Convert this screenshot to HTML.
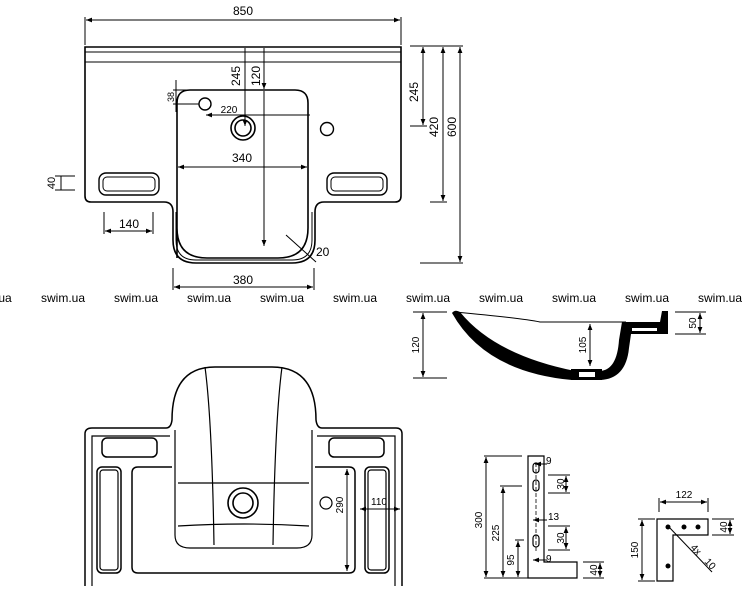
<!DOCTYPE html>
<html><head><meta charset="utf-8"><style>
html,body{margin:0;padding:0;background:#fff;}
svg{display:block;}
text{font-family:"Liberation Sans",sans-serif;fill:#000;}
.w{fill:#7a7a7a;font-size:12px;}
</style></head><body>
<svg width="742" height="600" viewBox="0 0 742 600" xmlns="http://www.w3.org/2000/svg">
<defs>
<marker id="a" viewBox="0 0 10 10" refX="10" refY="5" markerWidth="6" markerHeight="6" orient="auto-start-reverse"><path d="M0,1 L10,5 L0,9 z" fill="#000"/></marker>
</defs>
<g stroke="#000" fill="none" stroke-width="1">
<line x1="85" y1="17" x2="85" y2="45"/><line x1="401" y1="17" x2="401" y2="45"/>
<line x1="86" y1="20" x2="400" y2="20" marker-start="url(#a)" marker-end="url(#a)"/>
<path d="M85,47 H401 V196 Q401,202 395,202 H324 Q315,202 315,212 V240 Q315,263 292,263 H196 Q173,263 173,240 V212 Q173,202 164,202 H91 Q85,202 85,196 Z" stroke-width="1.6"/>
<line x1="85" y1="52" x2="401" y2="52"/>
<line x1="85" y1="62" x2="401" y2="62"/>
<path d="M177,258 V103 Q177,90 190,90 H295 Q308,90 308,103 V228 Q308,258 278,258 H207 Q177,258 177,228" stroke-width="1.6"/>
<path d="M176,212 V240 Q176,260 196,260 H292 Q312,260 312,240 V212" />
<circle cx="205" cy="104" r="6" stroke-width="1.4"/>
<circle cx="243" cy="128" r="12" stroke-width="1.6"/><circle cx="243" cy="128" r="8" stroke-width="1.6"/>
<circle cx="327" cy="129" r="6.5" stroke-width="1.4"/>
<rect x="99" y="173" width="60" height="22" rx="7" stroke-width="1.4"/><rect x="103" y="177" width="52" height="14" rx="4"/>
<rect x="327" y="173" width="60" height="22" rx="7" stroke-width="1.4"/><rect x="331" y="177" width="52" height="14" rx="4"/>
<line x1="245" y1="48" x2="245" y2="126" marker-end="url(#a)"/>
<line x1="264" y1="48" x2="264" y2="89" marker-end="url(#a)"/>
<line x1="264" y1="91" x2="264" y2="246" marker-end="url(#a)"/>
<line x1="176" y1="80" x2="176" y2="112"/><line x1="173" y1="90" x2="190" y2="90"/><line x1="173" y1="104" x2="199" y2="104"/>
<line x1="206" y1="115" x2="310" y2="115" marker-start="url(#a)"/>
<line x1="178" y1="167" x2="307" y2="167" marker-start="url(#a)" marker-end="url(#a)"/>
<line x1="104" y1="212" x2="104" y2="234"/><line x1="153" y1="212" x2="153" y2="234"/>
<line x1="105" y1="231" x2="152" y2="231" marker-start="url(#a)" marker-end="url(#a)"/>
<line x1="55" y1="176" x2="75" y2="176"/><line x1="55" y1="190" x2="75" y2="190"/><line x1="61" y1="176" x2="61" y2="190"/>
<line x1="286" y1="235" x2="316" y2="262"/>
<line x1="173" y1="268" x2="173" y2="290"/><line x1="314" y1="268" x2="314" y2="290"/>
<line x1="174" y1="287" x2="313" y2="287" marker-start="url(#a)" marker-end="url(#a)"/>
<line x1="410" y1="46" x2="463" y2="46"/><line x1="410" y1="126" x2="427" y2="126"/><line x1="430" y1="202" x2="447" y2="202"/><line x1="420" y1="263" x2="463" y2="263"/>
<line x1="423" y1="47" x2="423" y2="125" marker-start="url(#a)" marker-end="url(#a)"/>
<line x1="443" y1="47" x2="443" y2="201" marker-start="url(#a)" marker-end="url(#a)"/>
<line x1="460" y1="47" x2="460" y2="262" marker-start="url(#a)" marker-end="url(#a)"/>
<line x1="413" y1="312" x2="447" y2="312"/><line x1="413" y1="378" x2="447" y2="378"/>
<line x1="423" y1="313" x2="423" y2="377" marker-start="url(#a)" marker-end="url(#a)"/>
<line x1="590" y1="324" x2="590" y2="366" marker-start="url(#a)" marker-end="url(#a)"/>
<line x1="675" y1="312" x2="706" y2="312"/><line x1="675" y1="334" x2="706" y2="334"/>
<line x1="700" y1="313" x2="700" y2="333" marker-start="url(#a)" marker-end="url(#a)"/>
<path d="M455,312 Q520,318 540,322 H626"/>
</g>
<path d="M452,313 Q455,309 460,312 Q495,355 575,371 L600,371 Q617,370 619,340 L622,322 L660,322 L662,311 L668,311 L668,334 L631,334 L629,348 Q626,379 600,380 L572,380 Q485,372 452,313 Z" fill="#000"/>
<rect x="571" y="369" width="31" height="11" fill="#000"/><rect x="579" y="372" width="16" height="5" fill="#fff"/>
<rect x="632" y="328" width="25" height="3" fill="#fff"/>
<g stroke="#000" fill="none" stroke-width="1.2">
<path d="M85,586 V434 Q85,428 92,428 H166 Q171,428 172,420 Q172,367 215,367 H272 Q316,367 316,420 Q317,428 322,428 H396 Q402,428 402,434 V586" stroke-width="1.5"/>
<path d="M92,586 V436 H170 M317,436 H395 V586"/>
<path d="M205,367 Q212,420 214,545 M282,367 Q275,420 273,545"/>
<path d="M175,430 V535 Q175,548 190,548 H297 Q312,548 312,535 V430"/>
<path d="M178,483 H309 M178,526 Q245,522 309,526"/>
<rect x="102" y="438" width="55" height="19" rx="5" stroke-width="1.5"/>
<rect x="329" y="438" width="55" height="19" rx="5" stroke-width="1.5"/>
<rect x="97" y="467" width="24" height="106" rx="5" stroke-width="1.5"/><rect x="100" y="470" width="18" height="100" rx="3"/>
<rect x="365" y="467" width="24" height="106" rx="5" stroke-width="1.5"/><rect x="368" y="470" width="18" height="100" rx="3"/>
<path d="M172,467 H138 Q132,467 132,473 V567 Q132,573 138,573 H349 Q355,573 355,567 V473 Q355,467 349,467 H315" stroke-width="1.5"/>
<circle cx="243" cy="503" r="15" stroke-width="1.6"/><circle cx="243" cy="503" r="10" stroke-width="1.6"/>
<circle cx="326" cy="503" r="6"/>
<line x1="347" y1="469" x2="347" y2="571" marker-start="url(#a)" marker-end="url(#a)" stroke-width="1"/>
<line x1="360" y1="509" x2="400" y2="509" marker-start="url(#a)" marker-end="url(#a)" stroke-width="1"/>
<path d="M528,456 H544 V562 H577 V578 H528 Z"/>
<rect x="533" y="463" width="6" height="10" rx="3"/><rect x="533" y="480" width="6" height="11" rx="3"/>
<rect x="533" y="535" width="6" height="12" rx="3"/>
<line x1="536" y1="463" x2="536" y2="553" stroke-dasharray="4 2" stroke-width="0.8"/>
<g stroke-width="1">
<line x1="484" y1="456" x2="522" y2="456"/><line x1="500" y1="486" x2="522" y2="486"/><line x1="515" y1="540" x2="524" y2="540"/>
<line x1="486" y1="457" x2="486" y2="577" marker-start="url(#a)" marker-end="url(#a)"/>
<line x1="503" y1="487" x2="503" y2="577" marker-start="url(#a)" marker-end="url(#a)"/>
<line x1="518" y1="541" x2="518" y2="577" marker-start="url(#a)" marker-end="url(#a)"/>
<line x1="484" y1="578" x2="528" y2="578"/>
<line x1="548" y1="475" x2="570" y2="475"/><line x1="548" y1="493" x2="570" y2="493"/>
<line x1="566" y1="476" x2="566" y2="492" marker-start="url(#a)" marker-end="url(#a)"/>
<line x1="548" y1="526" x2="570" y2="526"/><line x1="548" y1="550" x2="570" y2="550"/>
<line x1="566" y1="527" x2="566" y2="549" marker-start="url(#a)" marker-end="url(#a)"/>
<line x1="535" y1="464" x2="547" y2="464" marker-start="url(#a)"/>
<line x1="533" y1="520" x2="547" y2="520" marker-start="url(#a)"/>
<line x1="533" y1="560" x2="547" y2="560" marker-start="url(#a)"/>
<line x1="583" y1="562" x2="604" y2="562"/><line x1="583" y1="578" x2="604" y2="578"/>
<line x1="600" y1="563" x2="600" y2="577" marker-start="url(#a)" marker-end="url(#a)"/>
<line x1="659" y1="498" x2="659" y2="512"/><line x1="708" y1="498" x2="708" y2="512"/>
<line x1="660" y1="502" x2="707" y2="502" marker-start="url(#a)" marker-end="url(#a)"/>
<line x1="638" y1="519" x2="655" y2="519"/><line x1="638" y1="581" x2="655" y2="581"/>
<line x1="642" y1="520" x2="642" y2="580" marker-start="url(#a)" marker-end="url(#a)"/>
<line x1="712" y1="519" x2="734" y2="519"/><line x1="712" y1="535" x2="734" y2="535"/>
<line x1="730" y1="520" x2="730" y2="534" marker-start="url(#a)" marker-end="url(#a)"/>
<line x1="668" y1="526" x2="712" y2="572"/>
</g>
<path d="M657,519 H708 V535 H673 V581 H657 Z"/>
</g>
<g fill="#000"><circle cx="668" cy="527" r="2.5"/><circle cx="684" cy="527" r="2.5"/><circle cx="698" cy="527" r="2.5"/><circle cx="668" cy="566" r="2.5"/></g>
<g font-size="12">
<text x="243" y="15" text-anchor="middle">850</text>
<text transform="translate(240,76) rotate(-90)" text-anchor="middle">245</text>
<text transform="translate(260,76) rotate(-90)" text-anchor="middle">120</text>
<text transform="translate(174,97) rotate(-90)" text-anchor="middle" font-size="9">38</text>
<text x="229" y="113" text-anchor="middle" font-size="10">220</text>
<text x="242" y="162" text-anchor="middle">340</text>
<text x="129" y="228" text-anchor="middle">140</text>
<text transform="translate(55,183) rotate(-90)" text-anchor="middle" font-size="11">40</text>
<text x="316" y="256">20</text>
<text x="243" y="284" text-anchor="middle">380</text>
<text transform="translate(418,92) rotate(-90)" text-anchor="middle">245</text>
<text transform="translate(438,127) rotate(-90)" text-anchor="middle">420</text>
<text transform="translate(456,127) rotate(-90)" text-anchor="middle">600</text>
<text transform="translate(419,345) rotate(-90)" text-anchor="middle" font-size="10">120</text>
<text transform="translate(586,345) rotate(-90)" text-anchor="middle" font-size="10">105</text>
<text transform="translate(696,323) rotate(-90)" text-anchor="middle" font-size="10">50</text>
<text transform="translate(343,505) rotate(-90)" text-anchor="middle" font-size="10">290</text>
<text x="379" y="505" text-anchor="middle" font-size="10">110</text>
<text transform="translate(482,520) rotate(-90)" text-anchor="middle" font-size="10">300</text>
<text transform="translate(499,533) rotate(-90)" text-anchor="middle" font-size="10">225</text>
<text transform="translate(514,560) rotate(-90)" text-anchor="middle" font-size="10">95</text>
<text transform="translate(564,484) rotate(-90)" text-anchor="middle" font-size="10">30</text>
<text transform="translate(564,538) rotate(-90)" text-anchor="middle" font-size="10">30</text>
<text x="546" y="464" font-size="10">9</text>
<text x="548" y="520" font-size="10">13</text>
<text x="546" y="562" font-size="10">9</text>
<text transform="translate(597,570) rotate(-90)" text-anchor="middle" font-size="10">40</text>
<text x="684" y="498" text-anchor="middle" font-size="10">122</text>
<text transform="translate(638,550) rotate(-90)" text-anchor="middle" font-size="10">150</text>
<text transform="translate(727,527) rotate(-90)" text-anchor="middle" font-size="10">40</text>
<text transform="translate(690,548) rotate(47)" font-size="10">4x</text>
<text transform="translate(704,562) rotate(47)" font-size="10">10</text>
</g>
<g class="w">
<text x="-5" y="302">.ua</text>
<text x="41" y="302">swim.ua</text>
<text x="114" y="302">swim.ua</text>
<text x="187" y="302">swim.ua</text>
<text x="260" y="302">swim.ua</text>
<text x="333" y="302">swim.ua</text>
<text x="406" y="302">swim.ua</text>
<text x="479" y="302">swim.ua</text>
<text x="552" y="302">swim.ua</text>
<text x="625" y="302">swim.ua</text>
<text x="698" y="302">swim.ua</text>
</g>
</svg>
</body></html>
